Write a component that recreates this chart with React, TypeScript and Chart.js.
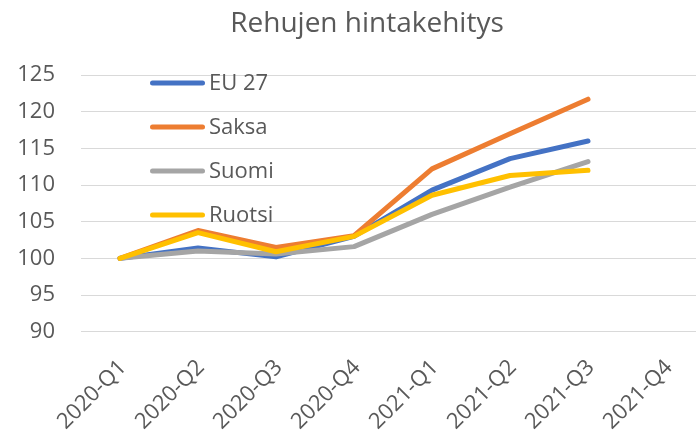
import React, { useEffect, useRef } from "react";
import { Chart, registerables } from "chart.js";

Chart.register(...registerables);

const chartTitle = "Rehujen hintakehitys";
const categories = ["2020-Q1", "2020-Q2", "2020-Q3", "2020-Q4", "2021-Q1", "2021-Q2", "2021-Q3", "2021-Q4"];
const eu27 = [100, 101.4, 100.2, 103.0, 109.3, 113.6, 116.0, null];
const saksa = [100, 103.8, 101.5, 103.1, 112.2, 117.0, 121.7, null];
const suomi = [100, 101.0, 100.6, 101.6, 106.0, 109.7, 113.2, null];
const ruotsi = [100, 103.5, 100.9, 103.0, 108.6, 111.3, 112.0, null];
const seriesNames = ["EU 27", "Saksa", "Suomi", "Ruotsi"];
const seriesColors = ["#4472C4", "#ED7D31", "#A5A5A5", "#FFC000"];
const yMin = 90;
const yMax = 125;
const yStep = 5;

const FONT = "'Open Sans', 'Noto Sans', sans-serif";
const TEXT = "#595959";

const titleAndLegend = {
  id: "titleAndLegend",
  afterDraw(chart: any) {
    const { ctx, chartArea } = chart;
    ctx.save();
    // title, centred on the full (uncropped) chart width
    ctx.fillStyle = TEXT;
    ctx.font = `28px ${FONT}`;
    ctx.textAlign = "center";
    ctx.textBaseline = "alphabetic";
    ctx.fillText(chartTitle, chart.width / 2, 32);
    // legend inside the plot area
    chart.data.datasets.forEach((ds: any, i: number) => {
      const y = chartArea.top + 8 + i * 44;
      const x0 = chartArea.left + 69;
      ctx.strokeStyle = ds.borderColor;
      ctx.lineWidth = 5;
      ctx.lineCap = "round";
      ctx.beginPath();
      ctx.moveTo(x0 + 2.5, y);
      ctx.lineTo(x0 + 52.5, y);
      ctx.stroke();
      ctx.fillStyle = TEXT;
      ctx.font = `22px ${FONT}`;
      ctx.textBaseline = "middle";
      ctx.textAlign = "left";
      ctx.fillText(ds.label, x0 + 59, y + 1);
    });
    ctx.restore();
  },
};

export default function App() {
  const canvasRef = useRef<HTMLCanvasElement | null>(null);

  useEffect(() => {
    const canvas = canvasRef.current;
    if (!canvas) return;
    const values = [eu27, saksa, suomi, ruotsi];
    const chart = new Chart(canvas, {
      type: "line",
      data: {
        labels: categories,
        datasets: seriesNames.map((name, i) => ({
          label: name,
          data: values[i],
          borderColor: seriesColors[i],
          backgroundColor: seriesColors[i],
          borderWidth: 5,
          pointRadius: 0,
          pointHoverRadius: 0,
          tension: 0,
          fill: false,
          borderCapStyle: "round",
          borderJoinStyle: "round",
          order: seriesNames.length - 1 - i,
        })),
      },
      options: {
        animation: false,
        responsive: false,
        devicePixelRatio: 1,
        layout: { padding: { left: 0, right: 29, top: 75, bottom: 0 } },
        plugins: {
          legend: { display: false },
          tooltip: { enabled: false },
          title: { display: false },
        },
        scales: {
          x: {
            type: "category",
            offset: true,
            grid: { display: false, drawTicks: false },
            border: { display: false },
            ticks: {
              color: TEXT,
              font: { family: FONT, size: 22 },
              maxRotation: 45,
              minRotation: 45,
              padding: 23,
              labelOffset: 3,
              autoSkip: false,
            },
            afterFit(scale: any) {
              scale.height = 100.3;
            },
          },
          y: {
            min: yMin,
            max: yMax,
            grid: { color: "#D9D9D9", lineWidth: 1, drawTicks: false },
            border: { display: false },
            ticks: {
              stepSize: yStep,
              color: TEXT,
              font: { family: FONT, size: 22 },
              padding: 26,
            },
            afterFit(scale: any) {
              scale.width = 81;
            },
          },
        },
      },
      plugins: [titleAndLegend],
    });
    return () => chart.destroy();
  }, []);

  return (
    <div style={{ position: "fixed", left: 0, top: 0, width: 696, height: 432, overflow: "hidden", background: "#fff" }}>
      <canvas ref={canvasRef} width={734} height={432} style={{ display: "block" }} />
    </div>
  );
}
